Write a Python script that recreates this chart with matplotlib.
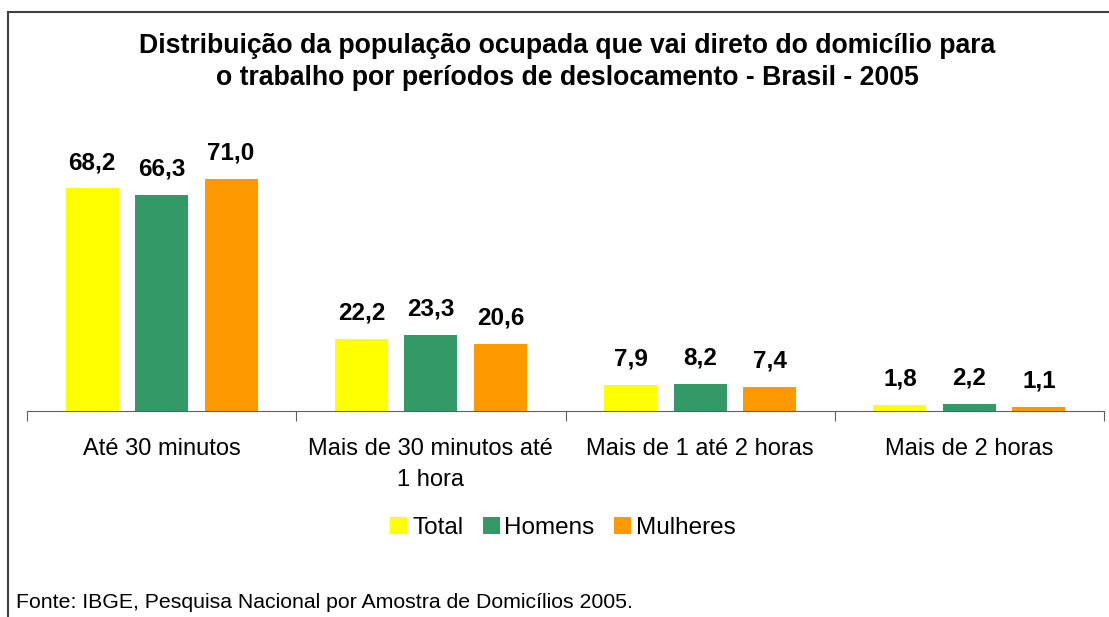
import numpy as np
import matplotlib
matplotlib.use("Agg")
import matplotlib.pyplot as plt
from matplotlib.patches import Patch, Rectangle

plt.rcParams['font.family'] = ['Liberation Sans', 'DejaVu Sans']

# dados
categorias = ["Até 30 minutos", "Mais de 30 minutos até\n1 hora", "Mais de 1 até 2 horas", "Mais de 2 horas"]
series = ["Total", "Homens", "Mulheres"]
total = [68.2, 22.2, 7.9, 1.8]
homens = [66.3, 23.3, 8.2, 2.2]
mulheres = [71.0, 20.6, 7.4, 1.1]
cores = ["#FFFF00", "#339966", "#FF9900"]

W, H = 1109, 617
fig = plt.figure(figsize=(W / 100, H / 100), dpi=100)

# moldura (só topo e esquerda aparecem)
fig.add_artist(Rectangle((8 / W, -0.1), 1.2, (H - 12) / H + 0.1, transform=fig.transFigure,
                         fill=False, edgecolor="#404040", linewidth=1.5))

ax = fig.add_axes([27 / W, (H - 411) / H, (1104 - 27) / W, (411 - 150) / H])

x = np.arange(len(categorias))
largura = 0.197
passo = 0.258
for i, (vals, cor) in enumerate(zip([total, homens, mulheres], cores)):
    pos = x + (i - 1) * passo
    ax.bar(pos, vals, width=largura, color=cor, edgecolor="none", zorder=2)
    for px, v in zip(pos, vals):
        ax.annotate(f"{v:.1f}".replace(".", ","), (px, v), xytext=(0, 14), textcoords="offset points",
                    ha="center", va="baseline", fontsize=17.5, fontweight="bold")

ax.set_xlim(-0.5, len(categorias) - 0.5)
ax.set_ylim(0, 80)
for s in ["top", "right", "left"]:
    ax.spines[s].set_visible(False)
ax.spines["bottom"].set_color("#606060")
ax.set_yticks([])
ax.set_xticks(np.arange(len(categorias) + 1) - 0.5)
ax.set_xticklabels([])
ax.tick_params(axis="x", which="major", length=7, color="#606060", direction="out")
ax.set_xticks(x, minor=True)
ax.set_xticklabels(categorias, minor=True, fontsize=17, linespacing=1.55)
for lbl in ax.get_xticklabels(minor=True):
    lbl.set_verticalalignment("top")
ax.tick_params(axis="x", which="minor", length=0, pad=19.5)

handles = [Patch(facecolor=c, edgecolor="none") for c in cores]
fig.legend(handles, series, loc="center", bbox_to_anchor=(563 / W, 1 - 528 / H), ncol=3,
           frameon=False, fontsize=17.5, handlelength=0.7, handleheight=0.7,
           handletextpad=0.2, columnspacing=0.8)

fig.text(567 / W, 1 - 46 / H, "Distribuição da população ocupada que vai direto do domicílio para",
         ha="center", va="center", fontsize=19.2, fontweight="bold")
fig.text(567 / W, 1 - 78 / H, "o trabalho por períodos de deslocamento - Brasil - 2005",
         ha="center", va="center", fontsize=19.2, fontweight="bold")
fig.text(16 / W, 1 - 603 / H, "Fonte: IBGE, Pesquisa Nacional por Amostra de Domicílios 2005.",
         ha="left", va="center", fontsize=15.3)

fig.savefig("out.png", dpi=100)
